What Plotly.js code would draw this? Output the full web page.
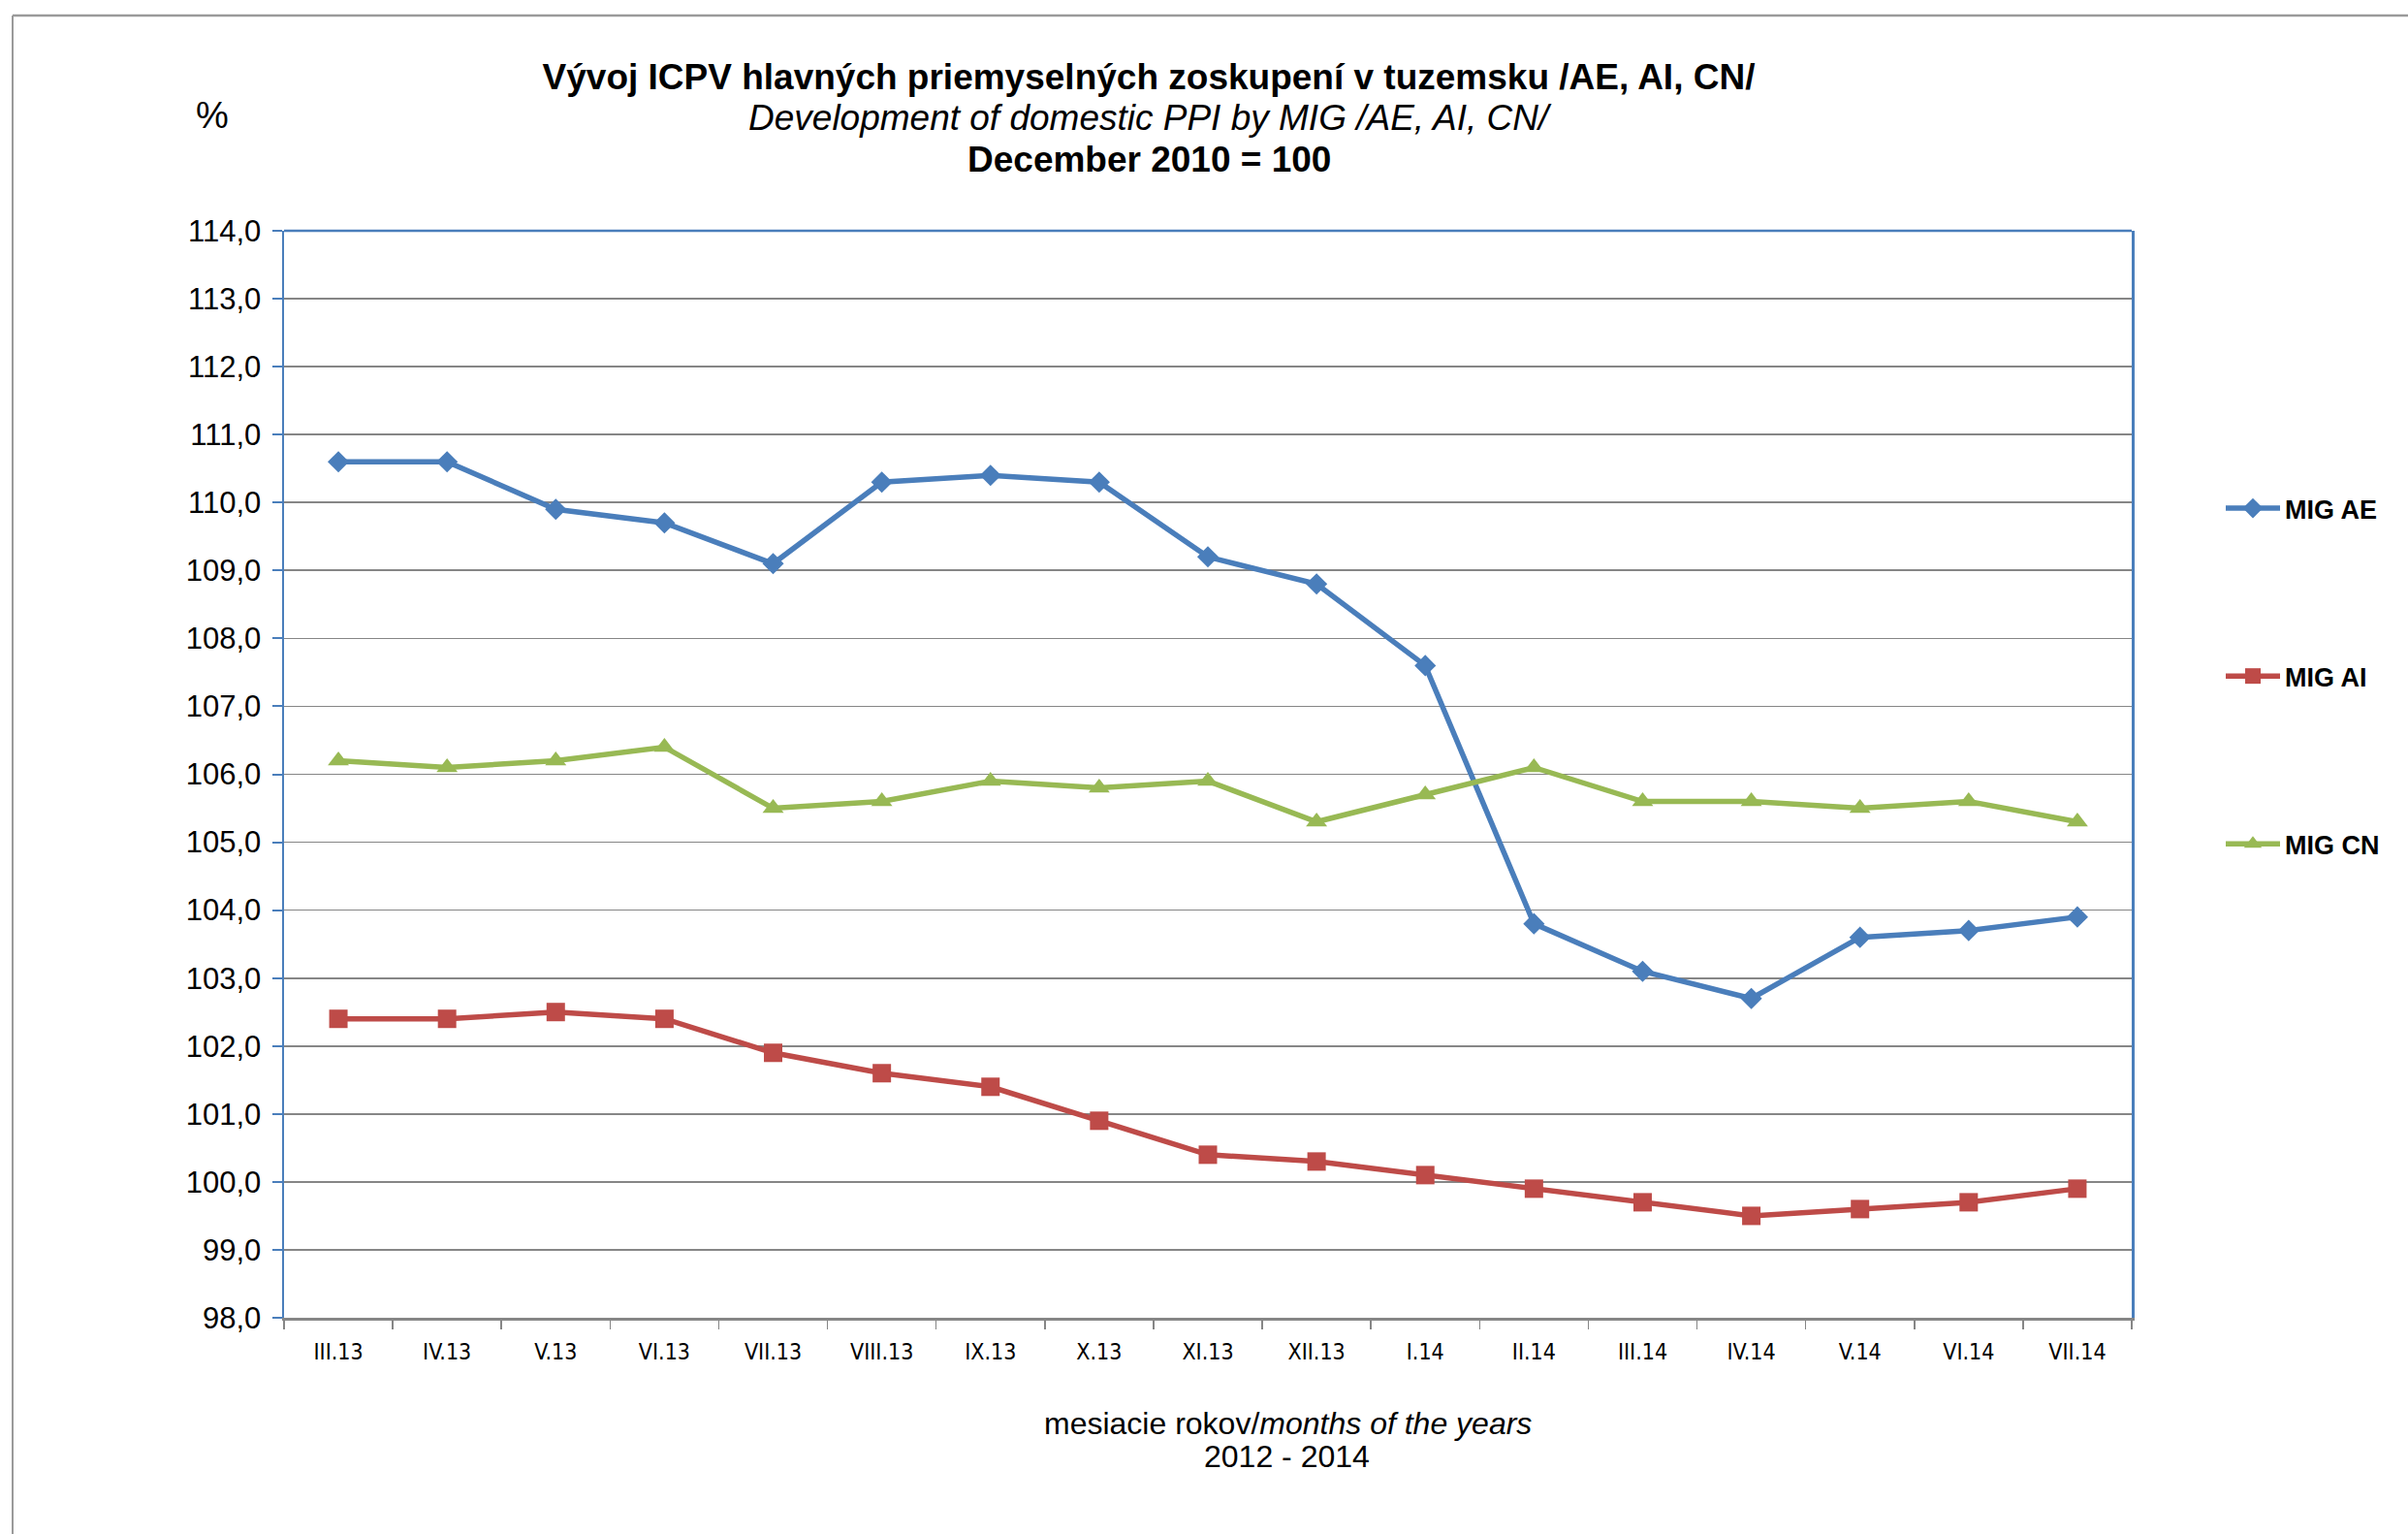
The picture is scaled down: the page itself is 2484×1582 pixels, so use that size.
<!DOCTYPE html>
<html>
<head>
<meta charset="utf-8">
<script src="https://cdn.plot.ly/plotly-3.0.1.min.js"></script>
<style>
html,body{margin:0;padding:0;background:#fff;}
#chart{width:2484px;height:1582px;}
</style>
</head>
<body>
<div id="chart"></div>
<script>
const months = ["III.13","IV.13","V.13","VI.13","VII.13","VIII.13","IX.13","X.13","XI.13","XII.13","I.14","II.14","III.14","IV.14","V.14","VI.14","VII.14"];
const migAE = [110.6,110.6,109.9,109.7,109.1,110.3,110.4,110.3,109.2,108.8,107.6,103.8,103.1,102.7,103.6,103.7,103.9];
const migAI = [102.4,102.4,102.5,102.4,101.9,101.6,101.4,100.9,100.4,100.3,100.1,99.9,99.7,99.5,99.6,99.7,99.9];
const migCN = [106.2,106.1,106.2,106.4,105.5,105.6,105.9,105.8,105.9,105.3,105.7,106.1,105.6,105.6,105.5,105.6,105.3];
const seriesNames = ["MIG AE","MIG AI","MIG CN"];
const yTicks = [98,99,100,101,102,103,104,105,106,107,108,109,110,111,112,113,114];
const titleLines = ["Vývoj ICPV hlavných priemyselných zoskupení v tuzemsku /AE, AI, CN/", "Development of domestic PPI by MIG /AE, AI, CN/", "December 2010 = 100"];
const xTitleLines = ["mesiacie rokov/<i>months of the years</i>", "2012 - 2014"];
const yUnit = "%";

const W = 2484, H = 1582;
const L = 293, R = 2199, T = 238, B = 1359;
const px = x => (x - L) / (R - L);
const py = y => (B - y) / (B - T);

const arial = "Liberation Sans, Arial, sans-serif";
const narrow = "Liberation Sans Narrow, Arial Narrow, DejaVu Sans Condensed, sans-serif";

const traces = [
  {x: months, y: migAE, name: seriesNames[0], mode: "lines+markers", legendgroup: "a",
   line: {color: "#4A7EBB", width: 5.5}, marker: {symbol: "diamond", size: 17, color: "#4A7EBB"}},
  {x: months, y: migAI, name: seriesNames[1], mode: "lines+markers", legendgroup: "b",
   line: {color: "#BE4B48", width: 5.5}, marker: {symbol: "square", size: 19, color: "#BE4B48"}},
  {x: months, y: migCN, name: seriesNames[2], mode: "lines+markers", legendgroup: "c",
   line: {color: "#98B954", width: 5.5}, marker: {symbol: "triangle-up", size: 19, color: "#98B954"}}
];

const layout = {
  width: W, height: H,
  margin: {l: L, r: W - R, t: T, b: H - B, pad: 0},
  paper_bgcolor: "#fff", plot_bgcolor: "#fff",
  separators: ", ",
  font: {family: arial, color: "#000"},
  title: {
    text: "<b>" + titleLines[0] + "</b>",
    font: {family: arial, size: 37, color: "#000"},
    x: 1185 / W, xanchor: "center", xref: "container",
    y: 1 - 79 / H, yanchor: "middle", yref: "container"
  },
  xaxis: {
    type: "category",
    range: [-0.5, months.length - 0.5],
    tickson: "boundaries",
    ticks: "outside", ticklen: 9, tickwidth: 1.5, tickcolor: "#868686",
    showline: true, linecolor: "#868686", linewidth: 3,
    showgrid: false,
    tickfont: {family: narrow, size: 23, color: "#000"},
    ticklabelstandoff: 12,
    fixedrange: true
  },
  yaxis: {
    range: [98, 114],
    tickvals: yTicks,
    tickformat: ".1f",
    ticks: "outside", ticklen: 10, tickwidth: 2, tickcolor: "#4A7EBB",
    showline: true, linecolor: "#4A7EBB", linewidth: 2.5, mirror: true,
    showgrid: true, gridcolor: "#868686", gridwidth: 1.7,
    zeroline: false,
    tickfont: {family: arial, size: 31, color: "#000"},
    ticklabelstandoff: 5,
    fixedrange: true
  },
  showlegend: true,
  legend: {
    x: px(2291), xanchor: "left",
    y: py(500), yanchor: "top",
    font: {family: arial, size: 27, color: "#000", weight: "bold"},
    tracegroupgap: 135,
    bgcolor: "rgba(0,0,0,0)",
    itemwidth: 56
  },
  shapes: [
    {type: "line", xref: "paper", yref: "paper", x0: 0, x1: 1, y0: 1, y1: 1, line: {color: "#4A7EBB", width: 2.5}},
    {type: "line", xref: "paper", yref: "paper", x0: px(13), x1: px(W), y0: py(16), y1: py(16), line: {color: "#9A9A9A", width: 2.5}},
    {type: "line", xref: "paper", yref: "paper", x0: px(13), x1: px(13), y0: py(16), y1: py(H), line: {color: "#9A9A9A", width: 2}}
  ],
  annotations: [
    {text: "<i>" + titleLines[1] + "</i>", xref: "paper", yref: "paper", x: px(1186), y: py(122), xanchor: "center", yanchor: "middle",
     showarrow: false, font: {family: arial, size: 37, color: "#000"}},
    {text: "<b>" + titleLines[2] + "</b>", xref: "paper", yref: "paper", x: px(1185), y: py(165), xanchor: "center", yanchor: "middle",
     showarrow: false, font: {family: arial, size: 37, color: "#000"}},
    {text: yUnit, xref: "paper", yref: "paper", x: px(219), y: py(119), xanchor: "center", yanchor: "middle",
     showarrow: false, font: {family: arial, size: 38, color: "#000"}},
    {text: xTitleLines[0], xref: "paper", yref: "paper",
     x: px(1328), y: py(1468), xanchor: "center", yanchor: "middle", showarrow: false,
     font: {family: arial, size: 32, color: "#000"}},
    {text: xTitleLines[1], xref: "paper", yref: "paper",
     x: px(1327), y: py(1502), xanchor: "center", yanchor: "middle", showarrow: false,
     font: {family: arial, size: 32, color: "#000"}}
  ]
};

Plotly.newPlot("chart", traces, layout, {displayModeBar: false, staticPlot: true});
</script>
</body>
</html>
